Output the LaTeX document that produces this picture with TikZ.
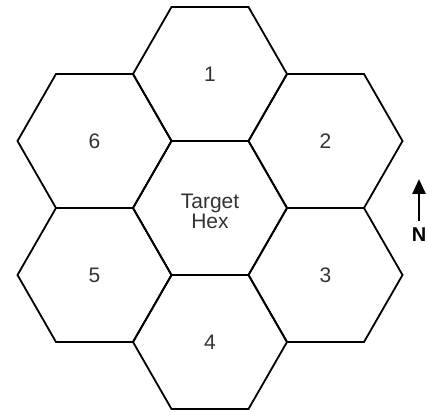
\documentclass[tikz,border=0pt]{standalone}
\usepackage{fontspec}
\setmainfont{Liberation Sans}
\usetikzlibrary{arrows.meta}
\begin{document}
\begin{tikzpicture}[x=1pt,y=-1pt,
  hexline/.style={line width=1.8pt, line join=miter},
  hexlabel/.style={font=\fontsize{21}{20}\selectfont, text=black!80, align=center, inner sep=0pt},
  northarrow/.style={line width=2.8pt, -{Triangle[length=15pt,width=13pt]}},
  northlabel/.style={font=\bfseries\fontsize{20}{20}\selectfont, inner sep=0pt}
]
\useasboundingbox (0,0) rectangle (427,411);
\def\R{77}\def\H{67}
\foreach \name/\cx/\cy/\ly/\txt in {t/210/208/211/{Target\\Hex}, h1/210/74/74/1, h2/325.5/141/141/2, h3/325.5/275/275/3, h4/210/342/342/4, h5/94.5/275/275/5, h6/94.5/141/141/6}{
  \draw[hexline] (\cx-\R,\cy) -- (\cx-\R/2,\cy-\H) -- (\cx+\R/2,\cy-\H) -- (\cx+\R,\cy) -- (\cx+\R/2,\cy+\H) -- (\cx-\R/2,\cy+\H) -- cycle;
  \node[hexlabel] (\name) at (\cx,\ly) {\txt};
}
\coordinate (ntip) at (419,179);
\coordinate (nbase) at (419,221);
\draw[northarrow] (nbase) -- (ntip);
\node[northlabel] (n) at (419,235) {N};
\end{tikzpicture}
\end{document}
